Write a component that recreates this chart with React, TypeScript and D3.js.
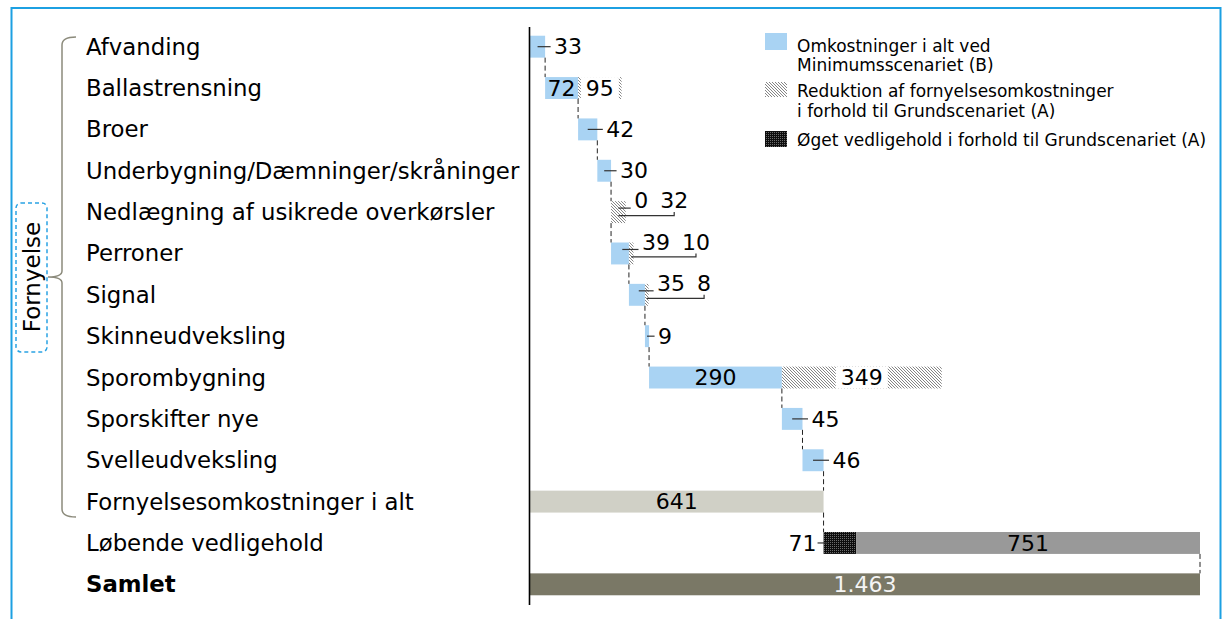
import React from 'react';
import * as d3 from 'd3';

// ---------- data ----------
const categories = [
  'Afvanding',
  'Ballastrensning',
  'Broer',
  'Underbygning/Dæmninger/skråninger',
  'Nedlægning af usikrede overkørsler',
  'Perroner',
  'Signal',
  'Skinneudveksling',
  'Sporombygning',
  'Sporskifter nye',
  'Svelleudveksling',
  'Fornyelsesomkostninger i alt',
  'Løbende vedligehold',
  'Samlet',
];
// Omkostninger i alt ved Minimumsscenariet (B), per fornyelses-kategori
const minimumCosts = [33, 72, 42, 30, 0, 39, 35, 9, 290, 45, 46];
// Reduktion af fornyelsesomkostninger i forhold til Grundscenariet (A)
const reductions: (number | null)[] = [null, 95, null, null, 32, 10, 8, null, 349, null, null];
const renewalTotal = 641;
const increasedMaintenance = 71;
const runningMaintenance = 751;
const grandTotal = 1463;

const legendLines = [
  ['Omkostninger i alt ved', 'Minimumsscenariet (B)'],
  ['Reduktion af fornyelsesomkostninger', 'i forhold til Grundscenariet (A)'],
  ['Øget vedligehold i forhold til Grundscenariet (A)'],
];
const groupLabel = 'Fornyelse';

// ---------- style ----------
const W = 1225;
const H = 619;
const FONT = '"DejaVu Sans", Verdana, sans-serif';
const BLUE = '#a9d3f3';
const LIGHT = '#d0d0c6';
const GREY = '#999999';
const OLIVE = '#7a7866';
const FRAME = '#1ca0e2';
const FS = 22;
const CAT_FS = 22.8;
const LEG_FS = 17;

const loc = d3.formatLocale({ decimal: ',', thousands: '.', grouping: [3], currency: ['', ' kr'] });
const fmt = loc.format(',d');

export default function App() {
  const x = d3.scaleLinear().domain([0, grandTotal]).range([530, 1200]);
  const y = d3
    .scaleBand<string>()
    .domain(categories)
    .range([26, 605])
    .paddingInner(0.47)
    .paddingOuter(0.235);
  const bh = y.bandwidth();
  const cy = (i: number) => (y(categories[i]) as number) + bh / 2;
  const top = (i: number) => y(categories[i]) as number;

  const cum: number[] = [0];
  minimumCosts.forEach((v, i) => cum.push(cum[i] + v));

  const charW = 0.636 * FS;
  const tw = (s: string) => s.length * charW;

  const marks: React.ReactNode[] = [];
  const connectors: React.ReactNode[] = [];
  const labels: React.ReactNode[] = [];

  minimumCosts.forEach((v, i) => {
    const x0 = x(cum[i]);
    const x1 = x(cum[i] + v);
    const r = reductions[i];
    const c = cy(i);
    if (v > 0)
      marks.push(<rect key={'b' + i} x={x0} y={top(i)} width={x1 - x0} height={bh} fill={BLUE} />);
    let hx1 = x1;
    if (r != null) {
      hx1 = x(cum[i] + v + r);
      marks.push(
        <rect key={'h' + i} x={x1} y={top(i)} width={hx1 - x1} height={bh} fill="url(#hatch)" />
      );
    }
    const bw = x1 - x0;
    const s1 = fmt(v);
    if (r == null) {
      labels.push(
        <g key={'l' + i}>
          <line x1={(x0 + x1) / 2} x2={x1 + 5.5} y1={c} y2={c} stroke="#333" strokeWidth={1.2} />
          <text x={x1 + 9} y={c} dy="0.35em" fontSize={FS}>{s1}</text>
        </g>
      );
    } else if (bw > 25) {
      const s2 = fmt(r);
      const hc = (x1 + hx1) / 2;
      const boxW = tw(s2) + 10;
      labels.push(
        <g key={'l' + i}>
          <text x={(x0 + x1) / 2} y={c} dy="0.35em" fontSize={FS} textAnchor="middle">{s1}</text>
          <rect x={hc - boxW / 2} y={top(i)} width={boxW} height={bh} fill="#fff" />
          <text x={hc} y={c} dy="0.35em" fontSize={FS} textAnchor="middle">{s2}</text>
        </g>
      );
    } else {
      const s2 = fmt(r);
      const cAll = (x0 + hx1) / 2;
      const hc = (x1 + hx1) / 2;
      const l1 = hx1 + 8.5;
      const l2 = l1 + tw(s1) + 12;
      const l2c = l2 + tw(s2) / 2;
      const ly = c - 11.5;
      labels.push(
        <g key={'l' + i}>
          <line x1={cAll} x2={l1 - 3.5} y1={c - 4} y2={c - 4} stroke="#333" strokeWidth={1.2} />
          <polyline
            points={`${hc},${c + 3.5} ${l2c},${c + 3.5} ${l2c},${c}`}
            fill="none"
            stroke="#333"
            strokeWidth={1.2}
          />
          <text x={l1} y={ly} dy="0.35em" fontSize={FS}>{s1}</text>
          <text x={l2} y={ly} dy="0.35em" fontSize={FS}>{s2}</text>
        </g>
      );
    }
    // connector to next row
    const nx = x(cum[i + 1]);
    connectors.push(
      <line key={'c' + i} x1={nx} x2={nx} y1={top(i) + bh} y2={top(i + 1)} stroke="#222" strokeWidth={1} strokeDasharray="5,3" />
    );
  });

  // Fornyelsesomkostninger i alt
  const iT = 11;
  marks.push(
    <rect key="tot" x={x(0)} y={top(iT)} width={x(renewalTotal) - x(0)} height={bh} fill={LIGHT} />
  );
  labels.push(
    <text key="ltot" x={(x(0) + x(renewalTotal)) / 2} y={cy(iT)} dy="0.35em" fontSize={FS} textAnchor="middle">
      {fmt(renewalTotal)}
    </text>
  );
  connectors.push(
    <line key="c11" x1={x(renewalTotal)} x2={x(renewalTotal)} y1={top(iT) + bh} y2={top(iT + 1)} stroke="#222" strokeWidth={1} strokeDasharray="5,3" />
  );

  // Løbende vedligehold
  const iM = 12;
  const m0 = x(renewalTotal);
  const m1 = x(renewalTotal + increasedMaintenance);
  const m2 = x(renewalTotal + increasedMaintenance + runningMaintenance);
  marks.push(<rect key="inc" x={m0} y={top(iM)} width={m1 - m0} height={bh} fill="url(#dots)" />);
  marks.push(<rect key="run" x={m1} y={top(iM)} width={m2 - m1} height={bh} fill={GREY} />);
  labels.push(
    <g key="lm">
      <line x1={m0 - 6} x2={m0 + 4} y1={cy(iM)} y2={cy(iM)} stroke="#333" strokeWidth={1.2} />
      <text x={m0 - 7} y={cy(iM)} dy="0.35em" fontSize={FS} textAnchor="end">{fmt(increasedMaintenance)}</text>
      <text x={(m1 + m2) / 2} y={cy(iM)} dy="0.35em" fontSize={FS} textAnchor="middle">{fmt(runningMaintenance)}</text>
    </g>
  );
  connectors.push(
    <line key="c12" x1={m2} x2={m2} y1={top(iM) + bh} y2={top(iM + 1)} stroke="#222" strokeWidth={1} strokeDasharray="5,3" />
  );

  // Samlet
  const iS = 13;
  marks.push(
    <rect key="sum" x={x(0)} y={top(iS)} width={x(grandTotal) - x(0)} height={bh} fill={OLIVE} />
  );
  labels.push(
    <text key="ls" x={(x(0) + x(grandTotal)) / 2} y={cy(iS)} dy="0.35em" fontSize={FS} textAnchor="middle" fill="#f4f4f4">
      {fmt(grandTotal)}
    </text>
  );

  // legend
  const legX = 765;
  const legTextX = 797;
  const legIcons = [
    { y: 33, h: 17, fill: BLUE },
    { y: 82, h: 15, fill: 'url(#hatch)' },
    { y: 131, h: 16, fill: 'url(#dots)' },
  ];
  const legBase = [[52, 71], [97, 117], [146]];

  const bracketTop = 37;
  const bracketBot = 517;
  const bracketMid = 277;

  return (
    <svg
      width={W}
      height={H}
      style={{ position: 'absolute', left: 0, top: 0, fontFamily: FONT }}
    >
      <defs>
        <pattern id="hatch" patternUnits="userSpaceOnUse" width={3} height={3}>
          <rect width={3} height={3} fill="#fff" />
          <path d="M-1,-1 L4,4 M-1,2 L1,4 M2,-1 L4,1" stroke="#666" strokeWidth={0.8} />
        </pattern>
        <pattern id="dots" patternUnits="userSpaceOnUse" width={2} height={2}>
          <rect width={2} height={2} fill="#0d0d0d" />
          <rect width={1} height={1} fill="#6a6a6a" />
        </pattern>
      </defs>
      <rect x={0} y={0} width={W} height={H} fill="#fff" />
      <rect x={11.5} y={8} width={1209} height={700} fill="none" stroke={FRAME} strokeWidth={2} />

      {/* category labels */}
      {categories.map((c, i) => (
        <text
          key={c}
          x={86}
          y={cy(i)}
          dy="0.35em"
          fontSize={CAT_FS}
          fontWeight={i === categories.length - 1 ? 'bold' : 'normal'}
          fill="#000"
        >
          {c}
        </text>
      ))}

      {/* bracket and group box */}
      <path
        d={`M76,${bracketTop} Q62,${bracketTop} 62,${bracketTop + 8} V${bracketMid - 6} Q62,${bracketMid} 48,${bracketMid} M76,${bracketBot} Q62,${bracketBot} 62,${bracketBot - 8} V${bracketMid + 6} Q62,${bracketMid} 48,${bracketMid}`}
        fill="none"
        stroke="#8c8b7c"
        strokeWidth={1.5}
      />
      <rect x={16} y={203} width={31} height={149} rx={5} fill="none" stroke="#2aa3e4" strokeWidth={1.5} strokeDasharray="4,3" />
      <text
        transform={`translate(32,${bracketMid}) rotate(-90)`}
        dy="0.35em"
        fontSize={23}
        textAnchor="middle"
      >
        {groupLabel}
      </text>

      {marks}
      {connectors}
      {labels}

      {/* axis */}
      <line x1={529.5} x2={529.5} y1={27} y2={605} stroke="#000" strokeWidth={1.6} />

      {/* legend */}
      {legIcons.map((ic, i) => (
        <g key={'leg' + i}>
          <rect x={legX} y={ic.y} width={22} height={ic.h} fill={ic.fill} />
          {legendLines[i].map((t, j) => (
            <text key={j} x={legTextX} y={legBase[i][j]} fontSize={LEG_FS} fill="#000">
              {t}
            </text>
          ))}
        </g>
      ))}
    </svg>
  );
}
